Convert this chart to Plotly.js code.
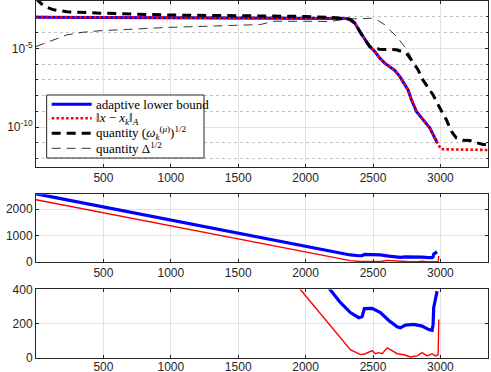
<!DOCTYPE html>
<html>
<head>
<meta charset="utf-8">
<script src="https://cdn.plot.ly/plotly-3.0.1.min.js"></script>
<style>html,body{margin:0;padding:0;background:#fff;}#chart{width:491px;height:372px;}</style>
</head>
<body>
<div id="chart"></div>
<script>
// ---------- top panel (log scale) ----------
const errX = [0, 500, 1000, 1500, 2000, 2300, 2330, 2365, 2402, 2439, 2476, 2513, 2550, 2587, 2624, 2661, 2698, 2735, 2760, 2785, 2822, 2871, 2921, 2958, 2982, 3007, 3353];
const errY = [9.5e-4, 9.3e-4, 9.1e-4, 8.7e-4, 8.3e-4, 7.9e-4, 6.3e-4, 4.0e-4, 1.15e-4, 3.5e-5, 1.3e-5, 6.3e-6, 2.4e-6, 1.15e-6, 6.5e-7, 4.0e-7, 1.66e-7, 4.9e-8, 2.3e-8, 5.5e-9, 1.0e-9, 3.0e-10, 9.1e-11, 2.1e-11, 8.1e-12, 4.0e-12, 3.6e-12];

const lbX = [0, 500, 1000, 1500, 2000, 2300, 2330, 2365, 2402, 2439, 2476, 2513, 2550, 2587, 2624, 2661, 2698, 2735, 2760, 2785, 2822, 2871, 2921, 2958, 2975];
const lbY = [9.5e-4, 9.3e-4, 9.1e-4, 8.7e-4, 8.3e-4, 7.9e-4, 6.3e-4, 4.0e-4, 1.15e-4, 3.5e-5, 1.3e-5, 6.3e-6, 2.4e-6, 1.15e-6, 6.5e-7, 4.0e-7, 1.66e-7, 4.9e-8, 2.3e-8, 5.5e-9, 1.0e-9, 3.0e-10, 9.1e-11, 2.1e-11, 1.1e-11];

const omX = [0, 57, 131, 229, 476, 970, 1587, 2000, 2200, 2330, 2365, 2402, 2439, 2476, 2501, 2550, 2674, 2748, 2785, 2834, 2870, 2946, 2995, 3044, 3081, 3118, 3167, 3217, 3267, 3316, 3353];
const omY = [1.4e-2, 4.9e-3, 2.75e-3, 2.1e-3, 1.7e-3, 1.3e-3, 1.15e-3, 1.05e-3, 8.9e-4, 7.1e-4, 4.0e-4, 1.15e-4, 3.5e-5, 1.3e-5, 1.0e-5, 8.9e-6, 8.1e-6, 5.0e-6, 1.9e-6, 4.4e-7, 1.0e-7, 1.1e-8, 1.7e-9, 3.0e-10, 5.6e-11, 2.1e-11, 1.5e-11, 1.45e-11, 1.05e-11, 8.1e-12, 7.8e-12];

const dtX = [0, 57, 131, 229, 350, 476, 970, 1513, 1661, 1710, 1760, 2000, 2180, 2300, 2427, 2489, 2538, 2587, 2637, 2686, 2723, 2761, 2785, 2834, 2870, 2946, 2995, 3044, 3081, 3118, 3167, 3217, 3267, 3316, 3353];
const dtY = [1.3e-5, 2.0e-5, 3.5e-5, 7.1e-5, 1.05e-4, 1.3e-4, 2.1e-4, 2.95e-4, 3.2e-4, 4.0e-4, 5.2e-4, 5.2e-4, 5.0e-4, 7.1e-4, 8.1e-4, 8.1e-4, 5.75e-4, 3.1e-4, 1.15e-4, 4.4e-5, 1.66e-5, 6.3e-6, 2.4e-6, 4.4e-7, 1.0e-7, 1.1e-8, 1.7e-9, 3.0e-10, 5.6e-11, 2.1e-11, 1.5e-11, 1.45e-11, 1.05e-11, 8.1e-12, 7.8e-12];

// ---------- middle / bottom panels (linear) ----------
const bndX = [0, 1000, 2172, 2253, 2332, 2394, 2419, 2436, 2493, 2555, 2617, 2679, 2703, 2740, 2802, 2864, 2913, 2938, 2946, 2950, 2963, 2975];
const bndY = [2577, 1577, 402, 328, 265, 235, 241, 288, 290, 265, 219, 182, 176, 192, 196, 186, 166, 162, 196, 294, 343, 390];
const dlyX = [0, 1961, 2332, 2406, 2444, 2493, 2518, 2543, 2568, 2605, 2642, 2679, 2728, 2778, 2827, 2864, 2901, 2938, 2963, 2983, 2988];
const dlyY = [2350, 400, 49, 20, 25, 43, 25, 31, 25, 59, 43, 25, 19, 6, 12, 31, 12, 25, 12, 19, 225];

// ---------- tick labels ----------
const xTicks = [500, 1000, 1500, 2000, 2500, 3000];
const logTickVals = [1e-10, 1e-5];
const logTickText = ['10<sup>-10</sup>', '10<sup>-5</sup>'];
const logMinorVals = [1e-12, 1e-11, 1e-10, 1e-9, 1e-8, 1e-7, 1e-6, 1e-5, 1e-4, 1e-3, 1e-2];
const midTicks = [0, 1000, 2000];
const botTicks = [0, 200, 400];

// ---------- legend labels ----------
const names = ['adaptive lower bound',
  '\u2016<i>x</i> \u2212 <i>x</i><sub><i>k</i></sub>\u2016<sub><i>A</i></sub>',
  'quantity (<i>\u03c9</i><sub><i>k</i></sub><sup>(<i>\u03bc</i>)</sup>)<sup>1/2</sup>',
  'quantity \u0394<sup>1/2</sup>'];

const BLUE = '#0000ff', RED = '#ff0000', BLK = '#000000';
const AX = '#262626';
const styles = [
  {color: BLUE, width: 3},
  {color: RED, width: 2.6, dash: '2.6px,2.2px'},
  {color: BLK, width: 3, dash: '9px,6px'},
  {color: BLK, width: 0.8, dash: '9px,6px'}
];

const traces = [
  {x: lbX, y: lbY, xaxis: 'x', yaxis: 'y', mode: 'lines', name: 'adaptive lower bound', line: styles[0]},
  {x: errX, y: errY, xaxis: 'x', yaxis: 'y', mode: 'lines', name: 'error', line: styles[1]},
  {x: omX, y: omY, xaxis: 'x', yaxis: 'y', mode: 'lines', name: 'omega', line: styles[2]},
  {x: dtX, y: dtY, xaxis: 'x', yaxis: 'y', mode: 'lines', name: 'delta', line: styles[3]},
  {x: dlyX, y: dlyY, xaxis: 'x2', yaxis: 'y2', mode: 'lines', line: {color: RED, width: 1.4}},
  {x: bndX, y: bndY, xaxis: 'x2', yaxis: 'y2', mode: 'lines', line: {color: BLUE, width: 3.2}},
  {x: dlyX, y: dlyY, xaxis: 'x3', yaxis: 'y3', mode: 'lines', line: {color: RED, width: 1.4}},
  {x: bndX, y: bndY, xaxis: 'x3', yaxis: 'y3', mode: 'lines', line: {color: BLUE, width: 3.2}}
];

const tickFont = {family: 'Liberation Sans, Arial, sans-serif', size: 12, color: AX};
function xAx(anchor, standoff) {
  return {anchor: anchor, domain: [0, 1], range: [0, 3353], tickmode: 'array', tickvals: xTicks,
    showgrid: true, gridcolor: '#e2e2e2', gridwidth: 1, zeroline: false,
    showline: true, linecolor: AX, linewidth: 1, mirror: 'ticks', ticks: 'inside', ticklen: 3, tickcolor: AX,
    ticklabelstandoff: standoff, tickfont: tickFont};
}
function yAx(anchor, dom, rng, vals) {
  return {anchor: anchor, domain: dom, range: rng, tickmode: 'array', tickvals: vals,
    showgrid: true, gridcolor: '#e2e2e2', gridwidth: 1, zeroline: false,
    showline: true, linecolor: AX, linewidth: 1, mirror: 'ticks', ticks: 'inside', ticklen: 3, tickcolor: AX,
    tickfont: tickFont};
}

const yTop = yAx('x', [0.536, 1], [-12.5, -2], logTickVals);
yTop.type = 'log';
yTop.ticktext = logTickText;
yTop.minor = {tickmode: 'array', tickvals: logMinorVals, showgrid: true, gridcolor: '#c4c4c4', griddash: 'dot', gridwidth: 1, ticks: 'inside', ticklen: 2, tickcolor: AX};

// ---------- hand-built legend box (paper coordinates) ----------
const legBox = {x0: 0.0236, x1: 0.3717, y0: 0.5602, y1: 0.7367};
const legRowsY = [0.7106, 0.6714, 0.6294, 0.5874];
const legLineX = [0.0347, 0.1232];
const legTextX = 0.131;
const legFont = {family: 'Liberation Serif, DejaVu Serif, serif', size: 13, color: '#000'};

const shapes = [{type: 'rect', xref: 'paper', yref: 'paper', layer: 'above',
  x0: legBox.x0, x1: legBox.x1, y0: legBox.y0, y1: legBox.y1,
  fillcolor: '#ffffff', line: {color: AX, width: 1}}];
const annotations = [];
legRowsY.forEach((yy, i) => {
  shapes.push({type: 'line', xref: 'paper', yref: 'paper', layer: 'above',
    x0: legLineX[0], x1: legLineX[1], y0: yy, y1: yy, line: styles[i]});
  annotations.push({xref: 'paper', yref: 'paper', x: legTextX, y: yy, xanchor: 'left', yanchor: 'middle',
    showarrow: false, text: names[i], borderpad: 0, font: legFont});
});
// tilde accent over the Delta of the last legend entry
annotations.push({xref: 'paper', yref: 'paper', x: 0.2435, y: 0.6135, xanchor: 'center', yanchor: 'middle',
  showarrow: false, text: '~', borderpad: 0, font: {family: 'Liberation Serif, serif', size: 10, color: '#000'}});

const layout = {
  width: 491, height: 372,
  margin: {l: 36, r: 3, t: 1, b: 14},
  paper_bgcolor: '#ffffff', plot_bgcolor: '#ffffff',
  showlegend: false,
  xaxis: xAx('y', 0),
  yaxis: yTop,
  xaxis2: xAx('y2', 0),
  yaxis2: yAx('x2', [0.269, 0.459], [0, 2563], midTicks),
  xaxis3: xAx('y3', -2),
  yaxis3: yAx('x3', [0, 0.192], [0, 400], botTicks),
  shapes: shapes,
  annotations: annotations
};

Plotly.newPlot('chart', traces, layout, {staticPlot: true, displayModeBar: false});
</script>
</body>
</html>
